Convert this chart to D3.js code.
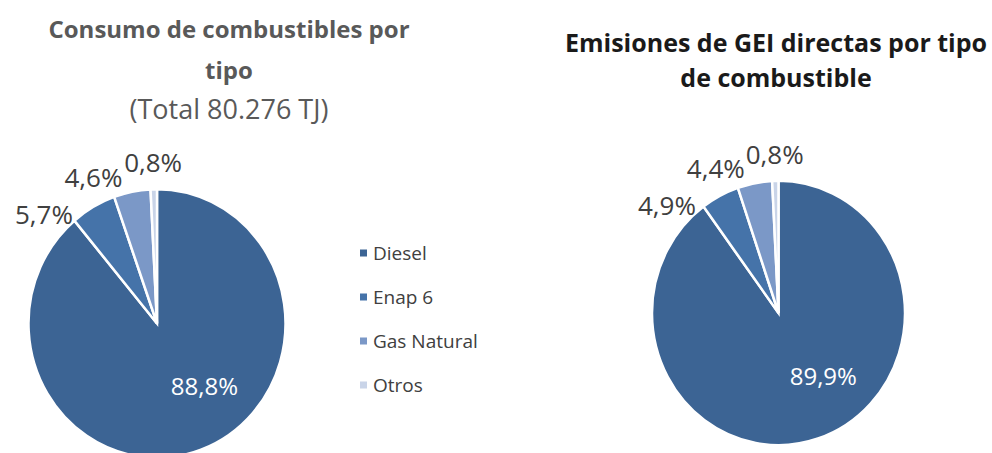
<!DOCTYPE html>
<html>
<head>
<meta charset="utf-8">
<script src="https://cdn.jsdelivr.net/npm/d3@7"></script>
<style>
  body { margin: 0; background: #fff; }
  svg { display: block; font-family: 'Open Sans', 'Noto Sans', sans-serif; }
</style>
</head>
<body>
<svg id="chart" width="992" height="453"></svg>
<script>
const categories = ['Diesel', 'Enap 6', 'Gas Natural', 'Otros']
const consumoValues = [88.8, 5.7, 4.6, 0.8]
const emisionesValues = [89.9, 4.9, 4.4, 0.8]
const consumoTitle = ['Consumo de combustibles por', 'tipo', '(Total 80.276 TJ)']
const emisionesTitle = ['Emisiones de GEI directas por tipo', 'de combustible']

const colors = d3.scaleOrdinal()
  .domain(categories)
  .range(['#3c6494', '#4573a9', '#7b98c7', '#c9d4e8'])

const fmt = v => d3.format('.1f')(v).replace('.', ',') + '%'
const stretchY = 1.045 // the source picture is a bit taller than wide
const deg = Math.PI / 180
const labelGap = 23 * deg

const svg = d3.select('#chart')

function pieChart (values, { cx, cy, r }) {
  const data = categories.map((c, i) => ({ category: c, value: values[i] }))
  const arcs = d3.pie().sort(null).value(d => d.value)(data)
  const arc = d3.arc().innerRadius(0).outerRadius(r)

  const g = svg.append('g')

  g.append('g')
    .attr('transform', `translate(${cx},${cy}) scale(1,${stretchY})`)
    .selectAll('path')
    .data(arcs)
    .join('path')
      .attr('d', arc)
      .attr('fill', d => colors(d.data.category))
      .attr('stroke', '#fff')
      .attr('stroke-width', 2.5)

  const polar = (a, rad) => [cx + rad * Math.sin(a), cy - rad * Math.cos(a) * stretchY]

  // big slice: label inside, nudged toward the open side like excel's best fit
  const big = arcs[0]
  const [bx, by] = polar((big.startAngle + big.endAngle) / 2 - 18 * deg, r * 0.6)
  g.append('text')
    .attr('x', bx)
    .attr('y', by)
    .attr('dy', '0.35em')
    .attr('text-anchor', 'middle')
    .attr('fill', '#fff')
    .attr('font-size', 24)
    .text(fmt(big.data.value))

  // small slices: labels outside, pushed apart from the top going left
  const small = arcs.slice(1).reverse()
  let prev = null
  small.forEach(d => {
    let a = (d.startAngle + d.endAngle) / 2
    if (prev !== null) a = Math.min(a, prev - labelGap)
    d.labelAngle = a
    prev = a
  })

  g.selectAll('text.out')
    .data(small)
    .join('text')
      .attr('class', 'out')
      .attr('x', d => polar(d.labelAngle, r + 25)[0])
      .attr('y', d => polar(d.labelAngle, r + 25)[1])
      .attr('dy', '0.35em')
      .attr('text-anchor', 'middle')
      .attr('fill', '#404040')
      .attr('font-size', 26)
      .text(d => fmt(d.data.value))
}

function title (lines, { x, baselines, color, sizes, weights }) {
  svg.append('text')
    .attr('text-anchor', 'middle')
    .attr('fill', color)
    .selectAll('tspan')
    .data(lines)
    .join('tspan')
      .attr('x', x)
      .attr('y', (d, i) => baselines[i])
      .attr('font-size', (d, i) => sizes[i])
      .attr('font-weight', (d, i) => weights[i])
      .text(d => d)
}

title(consumoTitle, {
  x: 229, baselines: [38, 79, 119], color: '#595959',
  sizes: [24, 24, 27], weights: [700, 700, 400]
})
title(emisionesTitle, {
  x: 776, baselines: [52, 87], color: '#1a1a1a',
  sizes: [25, 25], weights: [700, 700]
})

pieChart(consumoValues, { cx: 157, cy: 323.5, r: 128.5 })
pieChart(emisionesValues, { cx: 778.5, cy: 313, r: 126.5 })

// legend
const legend = svg.append('g')
  .attr('transform', 'translate(360,253)')
  .selectAll('g')
  .data(categories)
  .join('g')
    .attr('transform', (d, i) => `translate(0,${i * 44})`)

legend.append('rect')
  .attr('x', 0)
  .attr('y', -3.5)
  .attr('width', 7)
  .attr('height', 7)
  .attr('fill', d => colors(d))

legend.append('text')
  .attr('x', 13)
  .attr('dy', '0.35em')
  .attr('fill', '#404040')
  .attr('font-size', 19)
  .text(d => d)
</script>
</body>
</html>
